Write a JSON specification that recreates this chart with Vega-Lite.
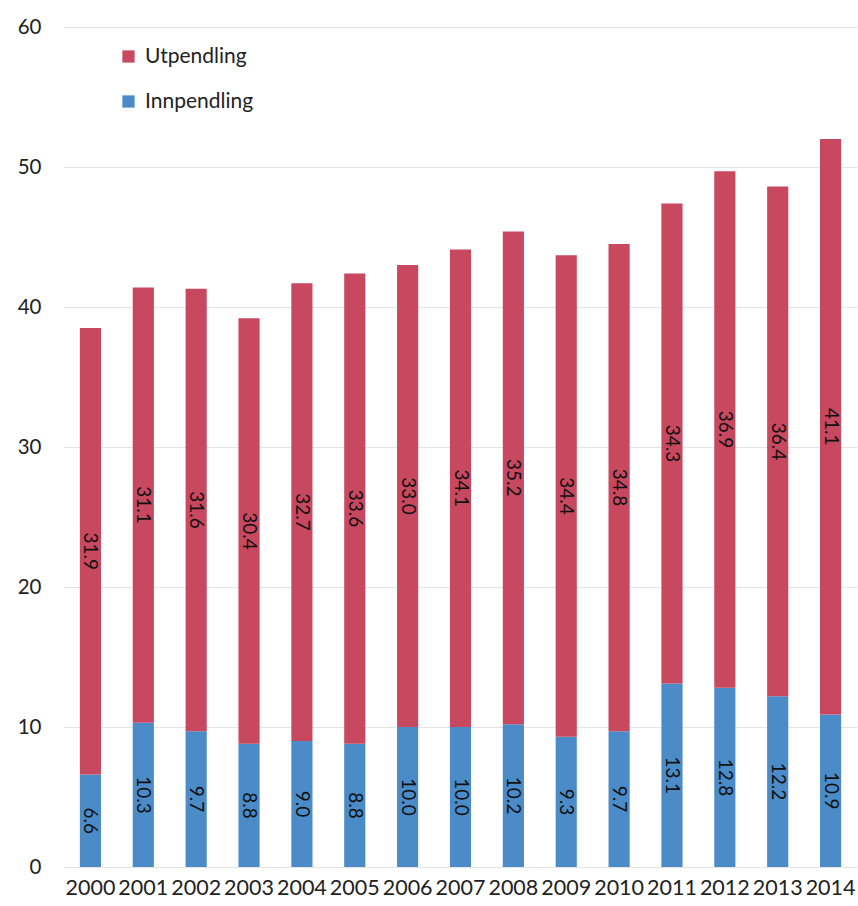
{
  "$schema": "https://vega.github.io/schema/vega-lite/v6.json",
  "width": 793,
  "height": 840,
  "autosize": {"type": "none"},
  "padding": {"left": 64, "top": 27, "right": 1, "bottom": 39},
  "background": "white",
  "config": {"view": {"stroke": null}, "font": "Lato"},
  "data": {
    "values": [
      {"year": "2000", "serie": "Innpendling", "value": 6.6},
      {"year": "2000", "serie": "Utpendling", "value": 31.9},
      {"year": "2001", "serie": "Innpendling", "value": 10.3},
      {"year": "2001", "serie": "Utpendling", "value": 31.1},
      {"year": "2002", "serie": "Innpendling", "value": 9.7},
      {"year": "2002", "serie": "Utpendling", "value": 31.6},
      {"year": "2003", "serie": "Innpendling", "value": 8.8},
      {"year": "2003", "serie": "Utpendling", "value": 30.4},
      {"year": "2004", "serie": "Innpendling", "value": 9.0},
      {"year": "2004", "serie": "Utpendling", "value": 32.7},
      {"year": "2005", "serie": "Innpendling", "value": 8.8},
      {"year": "2005", "serie": "Utpendling", "value": 33.6},
      {"year": "2006", "serie": "Innpendling", "value": 10.0},
      {"year": "2006", "serie": "Utpendling", "value": 33.0},
      {"year": "2007", "serie": "Innpendling", "value": 10.0},
      {"year": "2007", "serie": "Utpendling", "value": 34.1},
      {"year": "2008", "serie": "Innpendling", "value": 10.2},
      {"year": "2008", "serie": "Utpendling", "value": 35.2},
      {"year": "2009", "serie": "Innpendling", "value": 9.3},
      {"year": "2009", "serie": "Utpendling", "value": 34.4},
      {"year": "2010", "serie": "Innpendling", "value": 9.7},
      {"year": "2010", "serie": "Utpendling", "value": 34.8},
      {"year": "2011", "serie": "Innpendling", "value": 13.1},
      {"year": "2011", "serie": "Utpendling", "value": 34.3},
      {"year": "2012", "serie": "Innpendling", "value": 12.8},
      {"year": "2012", "serie": "Utpendling", "value": 36.9},
      {"year": "2013", "serie": "Innpendling", "value": 12.2},
      {"year": "2013", "serie": "Utpendling", "value": 36.4},
      {"year": "2014", "serie": "Innpendling", "value": 10.9},
      {"year": "2014", "serie": "Utpendling", "value": 41.1}
    ]
  },
  "encoding": {
    "x": {
      "field": "year",
      "type": "ordinal",
      "scale": {"paddingInner": 0.6, "paddingOuter": 0.3},
      "axis": {
        "title": null,
        "labelAngle": 0,
        "labelFontSize": 21.5,
        "labelColor": "#222222",
        "domain": false,
        "ticks": false,
        "labelPadding": 10
      }
    }
  },
  "layer": [
    {
      "mark": {"type": "bar"},
      "encoding": {
        "y": {
          "field": "value",
          "type": "quantitative",
          "stack": "zero",
          "scale": {"domain": [0, 60], "nice": false},
          "axis": {
            "title": null,
            "values": [0, 10, 20, 30, 40, 50, 60],
            "grid": true,
            "gridColor": "#e4e4e4",
            "domain": false,
            "ticks": false,
            "labelFontSize": 20.5,
            "labelColor": "#222222",
            "labelPadding": 23
          }
        },
        "color": {
          "field": "serie",
          "type": "nominal",
          "scale": {"domain": ["Utpendling", "Innpendling"], "range": ["#C7485F", "#4A8BC8"]},
          "legend": {
            "title": null,
            "orient": "none",
            "legendX": 54,
            "legendY": 19,
            "symbolType": "square",
            "symbolSize": 150,
            "symbolStrokeWidth": 0,
            "labelFontSize": 21,
            "labelColor": "#222222",
            "rowPadding": 23,
            "labelOffset": 6
          }
        },
        "order": {"field": "serie", "sort": "ascending"}
      }
    },
    {
      "mark": {"type": "text", "angle": 90, "fontSize": 19, "color": "#111111", "align": "center", "baseline": "middle"},
      "encoding": {
        "y": {"field": "value", "type": "quantitative", "stack": "zero", "bandPosition": 0.5},
        "text": {"field": "value", "type": "quantitative", "format": ".1f"},
        "detail": {"field": "serie"},
        "order": {"field": "serie", "sort": "ascending"}
      }
    }
  ]
}
